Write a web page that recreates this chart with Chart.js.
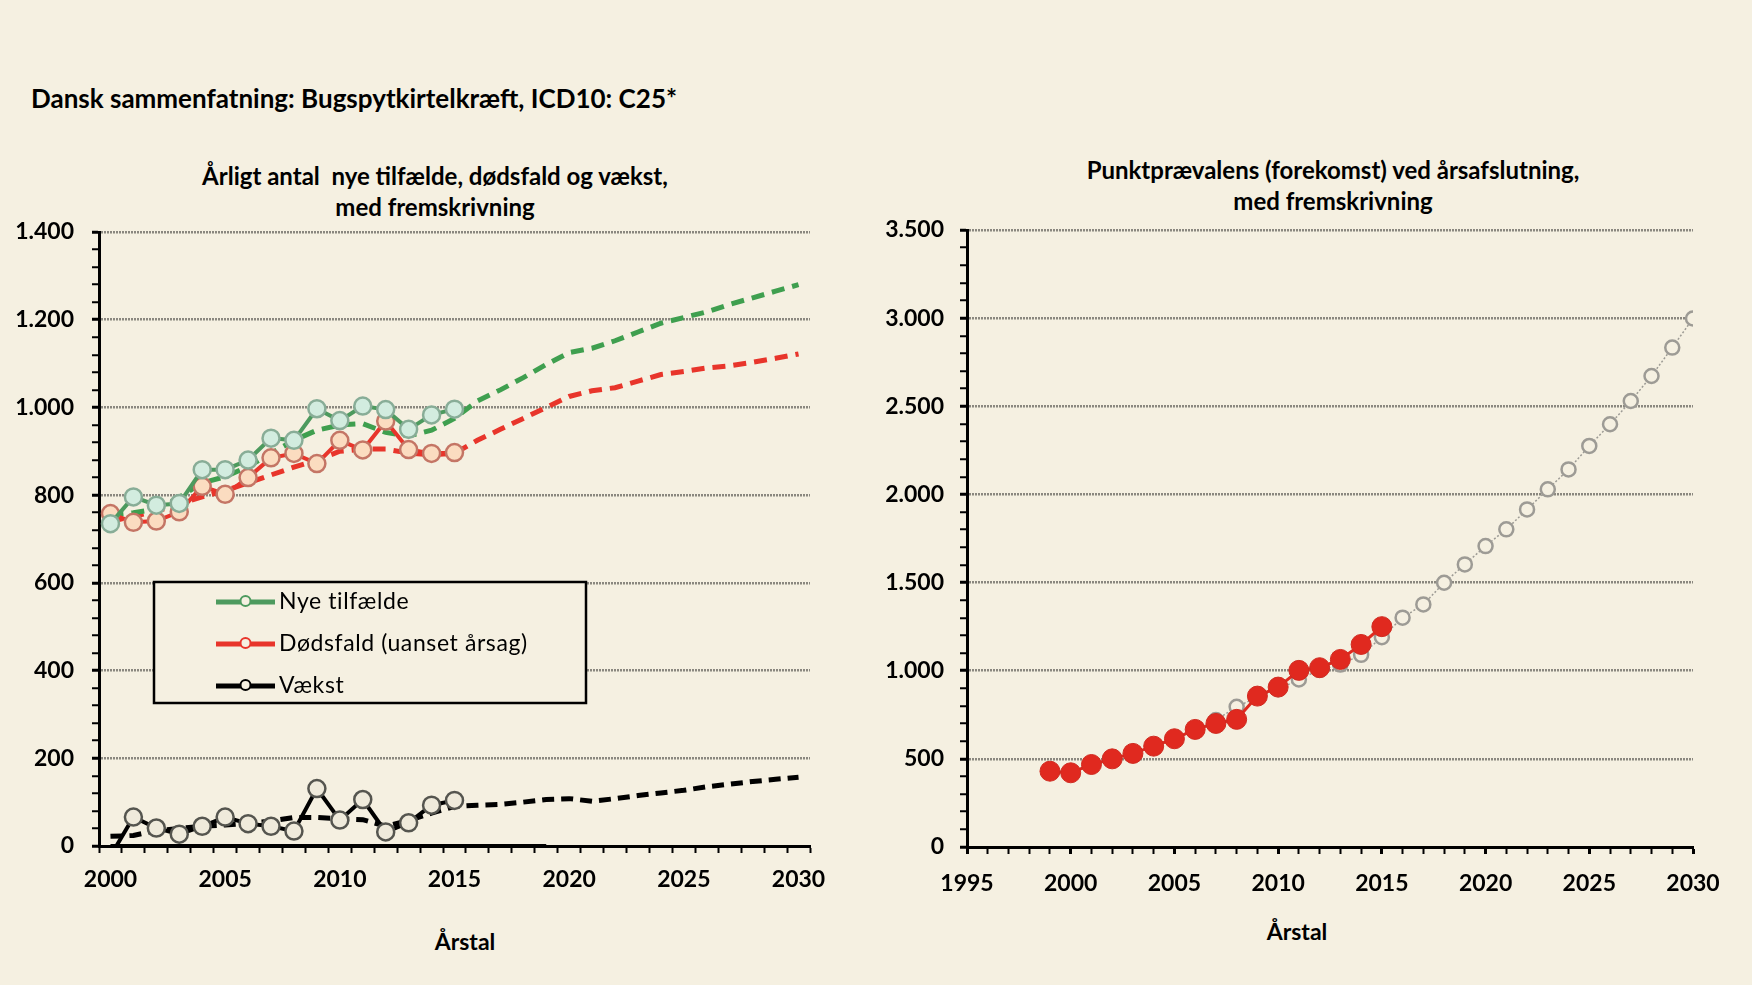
<!DOCTYPE html>
<html>
<head>
<meta charset="utf-8">
<script src="https://cdn.jsdelivr.net/npm/chart.js@4.4.1/dist/chart.umd.min.js"></script>
<style>
  body { margin:0; background:#f5f0e1; width:1752px; height:985px; position:relative; overflow:hidden; font-family:Lato, sans-serif; }
  .txt { position:absolute; color:#000; font-weight:bold; white-space:nowrap; }
  .ctr { text-align:center; }
  canvas { position:absolute; }
</style>
</head>
<body>
<div class="txt" style="left:31px;top:82px;font-size:26px;">Dansk sammenfatning: Bugspytkirtelkræft, ICD10: C25*</div>
<div class="txt ctr" style="left:85px;width:700px;top:160px;font-size:24px;line-height:31px;">Årligt antal&nbsp; nye tilfælde, dødsfald og vækst,<br>med fremskrivning</div>
<div class="txt ctr" style="left:983px;width:700px;top:154px;font-size:24px;line-height:31px;">Punktprævalens (forekomst) ved årsafslutning,<br>med fremskrivning</div>
<div class="txt ctr" style="left:365px;width:200px;top:927px;font-size:23px;">Årstal</div>
<div class="txt ctr" style="left:1197px;width:200px;top:917px;font-size:23px;">Årstal</div>

<canvas id="left" width="850" height="720" style="left:0;top:200px;"></canvas>
<canvas id="right" width="860" height="720" style="left:870px;top:200px;"></canvas>

<script>
// ---- data, left chart (2000-2030) ----
var years = [2000,2001,2002,2003,2004,2005,2006,2007,2008,2009,2010,2011,2012,2013,2014,2015,
             2016,2017,2018,2019,2020,2021,2022,2023,2024,2025,2026,2027,2028,2029,2030];
// observed 2000-2015
var nyeTilfaelde = [735,796,777,781,858,858,880,930,925,997,970,1003,995,950,983,996];
var doedsfald    = [758,738,741,762,820,802,840,885,895,872,925,903,969,904,895,897];
var vaekst       = [-23,66,41,27,45,66,51,45,34,131,59,106,32,53,93,104];
// fremskrivning 2000-2030
var nyeFrem  = [755,760,768,795,828,842,865,895,925,948,960,963,943,935,948,975,
                1015,1040,1068,1098,1125,1135,1152,1172,1192,1205,1218,1235,1250,1265,1280];
var doedFrem = [740,752,763,780,796,810,828,846,864,880,900,905,905,896,892,895,
                925,950,975,1000,1025,1038,1045,1060,1075,1082,1090,1095,1103,1112,1122];
var vaekstFrem = [22,24,35,40,45,48,52,57,65,65,62,60,45,58,75,90,
                  93,95,100,106,108,102,108,115,121,127,135,141,147,152,157];
var nulLinje = [0,0,0,0,0,0,0,0,0,0,0,0,0,0,0,0,0,0,0,0];

// ---- data, right chart ----
var prevYears = [1999,2000,2001,2002,2003,2004,2005,2006,2007,2008,2009,2010,2011,2012,2013,2014,2015];
var prevalens = [430,421,468,500,531,572,614,667,701,724,856,907,1002,1017,1064,1149,1250];
var modelYears = [1999,2000,2001,2002,2003,2004,2005,2006,2007,2008,2009,2010,2011,2012,2013,2014,2015,
                  2016,2017,2018,2019,2020,2021,2022,2023,2024,2025,2026,2027,2028,2029,2030];
var prevModel = [425,420,460,495,530,570,612,662,720,795,850,895,950,1005,1035,1090,1190,
                 1301,1376,1499,1603,1707,1802,1915,2029,2142,2275,2398,2530,2672,2833,2998];

var BG = '#f5f0e1';
var GRID = '#8a877f';
var tickFont = { family: 'Lato', size: 23, weight: 'bold' };

function fmt(v) { return String(v).replace(/\B(?=(\d{3})+(?!\d))/g, '.'); }
function pad(arr) { var out = arr.slice(); while (out.length < years.length) out.push(null); return out; }
function xy(xs, ys) { return xs.map(function(x, i){ return { x: x, y: ys[i] }; }); }
function stepTicks(max, step) {
  return function(scale) {
    var t = [];
    for (var v = scale.min; v <= max; v += step) t.push({ value: v });
    scale.ticks = t;
  };
}
function yGrid(major) {
  return {
    color: function(c){ return (c.tick && c.tick.value > 0 && c.tick.value % major === 0) ? GRID : 'rgba(0,0,0,0)'; },
    lineWidth: 2.5,
    tickColor: '#000',
    tickLength: 7,
    tickWidth: function(c){ return (c.tick && c.tick.value % major === 0) ? 3 : 2; },
    tickBorderDash: []
  };
}

// legend in a box, drawn from the datasets
var boxLegend = {
  id: 'boxLegend',
  afterDraw: function(chart) {
    var ctx = chart.ctx;
    var bx = 154, by = 382, bw = 432, bh = 121;
    ctx.save();
    ctx.fillStyle = BG;
    ctx.fillRect(bx, by, bw, bh);
    ctx.lineWidth = 2.5;
    ctx.strokeStyle = '#000';
    ctx.strokeRect(bx, by, bw, bh);
    var row = 0;
    chart.data.datasets.forEach(function(ds){
      if (!ds.inLegend) return;
      var y = by + 20 + row * 42;
      ctx.strokeStyle = ds.borderColor;
      ctx.lineWidth = 5;
      ctx.beginPath(); ctx.moveTo(216, y); ctx.lineTo(275, y); ctx.stroke();
      ctx.beginPath(); ctx.arc(245.5, y - 1, 5, 0, Math.PI * 2);
      ctx.fillStyle = BG; ctx.fill();
      ctx.lineWidth = 2; ctx.stroke();
      ctx.fillStyle = '#000';
      ctx.font = '23px Lato';
      ctx.letterSpacing = '0.6px';
      ctx.textBaseline = 'middle';
      ctx.fillText(ds.label, 279, y);
      row++;
    });
    ctx.restore();
  }
};

new Chart(document.getElementById('left'), {
  type: 'line',
  data: {
    labels: years,
    datasets: [
      { label: 'Nye tilfælde', inLegend: true, data: pad(nyeTilfaelde), borderColor: '#4d9a5e', borderWidth: 4,
        pointRadius: 8.5, pointBackgroundColor: '#d2ecdf', pointBorderColor: '#88ad97', pointBorderWidth: 2.5 },
      { label: 'Dødsfald (uanset årsag)', inLegend: true, data: pad(doedsfald), borderColor: '#e8352b', borderWidth: 4,
        pointRadius: 8.5, pointBackgroundColor: '#fbdcc0', pointBorderColor: '#c47565', pointBorderWidth: 2.5 },
      { label: 'Vækst', inLegend: true, data: pad(vaekst), borderColor: '#000', borderWidth: 4,
        pointRadius: vaekst.map(function(v){ return v < 0 ? 0 : 8.5; }),
        pointBackgroundColor: '#efeadb', pointBorderColor: '#55554f', pointBorderWidth: 2.5 },
      { label: 'Nye tilfælde, fremskrivning', data: nyeFrem, borderColor: '#3f9f4f', borderWidth: 5,
        borderDash: [13, 8], pointRadius: 0 },
      { label: 'Dødsfald, fremskrivning', data: doedFrem, borderColor: '#e8352b', borderWidth: 5,
        borderDash: [13, 8], pointRadius: 0 },
      { label: 'Vækst, fremskrivning', data: vaekstFrem, borderColor: '#000', borderWidth: 5,
        borderDash: [12, 7], pointRadius: 0 },
      { label: 'nul', data: pad(nulLinje), borderColor: '#000', borderWidth: 4, pointRadius: 0 }
    ]
  },
  options: {
    responsive: false,
    animation: false,
    layout: { padding: { top: 32, right: 40, bottom: 0, left: 0 } },
    plugins: { legend: { display: false }, tooltip: { enabled: false } },
    scales: {
      x: {
        type: 'category',
        offset: true,
        grid: { offset: true, drawOnChartArea: false, tickColor: '#000', tickLength: 7, tickWidth: 2 },
        border: { color: '#000', width: 3 },
        ticks: {
          autoSkip: false, maxRotation: 0, minRotation: 0, padding: 13,
          color: '#000', font: tickFont,
          callback: function(v, i){ return years[i] % 5 === 0 ? String(years[i]) : ''; }
        },
        afterFit: function(s){ s.height = 74; }
      },
      y: {
        min: 0, max: 1400,
        afterBuildTicks: stepTicks(1400, 40),
        grid: yGrid(200),
        border: { color: '#000', width: 3, dash: [2, 1] },
        ticks: {
          autoSkip: false, padding: 18, color: '#000', font: tickFont,
          callback: function(v){ return v % 200 === 0 ? fmt(v) : ''; }
        },
        afterFit: function(s){ s.width = 99; }
      }
    }
  },
  plugins: [boxLegend]
});

new Chart(document.getElementById('right'), {
  type: 'line',
  data: {
    datasets: [
      { label: 'Punktprævalens', data: xy(prevYears, prevalens), order: 0,
        borderColor: '#e0291f', borderWidth: 3,
        pointRadius: 10, pointBackgroundColor: '#e0291f', pointBorderColor: '#cf2a20', pointBorderWidth: 1 },
      { label: 'Fremskrivning', data: xy(modelYears, prevModel), order: 1,
        borderColor: '#9d9b95', borderWidth: 1.5, borderDash: [2, 2],
        pointRadius: 7, pointBackgroundColor: BG, pointBorderColor: '#9d9b95', pointBorderWidth: 2.5 }
    ]
  },
  options: {
    responsive: false,
    animation: false,
    layout: { padding: { top: 30, right: 37, bottom: 0, left: 0 } },
    plugins: { legend: { display: false }, tooltip: { enabled: false } },
    scales: {
      x: {
        type: 'linear', min: 1995, max: 2030,
        afterBuildTicks: stepTicks(2030, 1),
        grid: {
          drawOnChartArea: false, tickColor: '#000', tickLength: 7,
          tickWidth: function(c){ return (c.tick && c.tick.value % 5 === 0) ? 3 : 2; }
        },
        border: { color: '#000', width: 3 },
        ticks: {
          autoSkip: false, maxRotation: 0, minRotation: 0, padding: 16,
          color: '#000', font: tickFont,
          callback: function(v){ return v % 5 === 0 ? String(v) : ''; }
        },
        afterFit: function(s){ s.height = 73; s.paddingLeft = 20; s.paddingRight = 20; }
      },
      y: {
        min: 0, max: 3500,
        afterBuildTicks: stepTicks(3500, 100),
        grid: yGrid(500),
        border: { color: '#000', width: 3, dash: [2, 1] },
        ticks: {
          autoSkip: false, padding: 16, color: '#000', font: tickFont,
          callback: function(v){ return v % 500 === 0 ? fmt(v) : ''; }
        },
        afterFit: function(s){ s.width = 97; }
      }
    }
  }
});
</script>
</body>
</html>
